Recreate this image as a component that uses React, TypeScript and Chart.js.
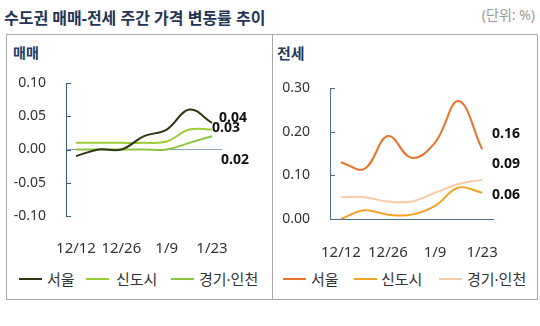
import React, { useEffect, useRef } from 'react';
import { Chart, registerables } from 'chart.js';
Chart.register(...registerables);

const dates = ['12/12', '12/19', '12/26', '1/2', '1/9', '1/16', '1/23'];
const shownDateIdx = [0, 2, 4, 6];
const regionNames = ['서울', '신도시', '경기·인천'];

const saleSeoul = [-0.01, 0.0, 0.0, 0.02, 0.03, 0.06, 0.04];
const saleNewTown = [0.01, 0.01, 0.01, 0.01, 0.012, 0.03, 0.03];
const saleGyeonggi = [0.0, 0.0, 0.0, 0.0, 0.0, 0.01, 0.02];

const rentSeoul = [0.13, 0.115, 0.19, 0.14, 0.175, 0.27, 0.16];
const rentNewTown = [0.0, 0.02, 0.01, 0.01, 0.03, 0.072, 0.06];
const rentGyeonggi = [0.05, 0.05, 0.04, 0.04, 0.06, 0.08, 0.09];

const saleTicks = [-0.1, -0.05, 0, 0.05, 0.1];
const rentTicks = [0, 0.1, 0.2, 0.3];

const saleColors = ['#2e3614', '#9acd32', '#8cc63f'];
const rentColors = ['#e8732a', '#f0a32c', '#f9caa3'];

const FONT = '"Noto Sans", "Noto Sans CJK KR", sans-serif';

const inwardTicks = {
  id: 'inwardTicks',
  afterDraw(chart: any, _a: any, opts: any) {
    const { ctx, chartArea, scales } = chart;
    const y = scales.y;
    ctx.save();
    ctx.strokeStyle = opts.color;
    ctx.lineWidth = 1;
    y.ticks.forEach((t: any) => {
      const py = Math.round(y.getPixelForValue(t.value)) + 0.5;
      ctx.beginPath();
      ctx.moveTo(chartArea.left, py);
      ctx.lineTo(chartArea.left + 5, py);
      ctx.stroke();
    });
    ctx.restore();
  },
};

const endLabels = {
  id: 'endLabels',
  afterDatasetsDraw(chart: any, _a: any, opts: any) {
    const { ctx } = chart;
    ctx.save();
    ctx.font = 'bold 14px ' + FONT;
    ctx.fillStyle = '#111';
    ctx.textBaseline = 'middle';
    ctx.textAlign = 'left';
    opts.order.forEach((i: number) => {
      const meta = chart.getDatasetMeta(i);
      const pt = meta.data[meta.data.length - 1];
      const ds = chart.data.datasets[i];
      const v = ds.data[ds.data.length - 1].y;
      const [dx, dy] = opts.offsets[i];
      ctx.fillText(v.toFixed(2), pt.x + dx, pt.y + dy);
    });
    ctx.restore();
  },
};

function makeConfig(p: any) {
  return {
    type: 'line',
    data: {
      datasets: p.series.map((s: number[], i: number) => ({
        label: regionNames[i],
        data: s.map((v, k) => ({ x: k, y: v })),
        borderColor: p.colors[i],
        borderWidth: 2,
        pointRadius: 0,
        tension: 0.4,
        fill: false,
      })),
    },
    options: {
      responsive: false,
      animation: false,
      devicePixelRatio: 1,
      layout: { padding: { top: p.padTop, right: p.padRight, left: 0, bottom: 0 } },
      plugins: {
        legend: { display: false },
        tooltip: { enabled: false },
        inwardTicks: { color: p.axisColor },
        endLabels: { order: p.order, offsets: p.offsets },
      },
      scales: {
        x: {
          type: 'linear',
          min: p.xMin,
          max: p.xMax,
          afterBuildTicks: (sc: any) => {
            sc.ticks = shownDateIdx.map((v) => ({ value: v }));
          },
          afterFit: (sc: any) => {
            sc.height = p.xHeight;
          },
          grid: { display: false, drawTicks: false },
          border: { display: false },
          ticks: {
            padding: p.xPad,
            maxRotation: 0,
            autoSkip: false,
            color: '#333',
            font: { family: FONT, size: 15 },
            callback: (v: number) => dates[v],
          },
        },
        y: {
          min: p.ticks[0],
          max: p.ticks[p.ticks.length - 1],
          afterBuildTicks: (sc: any) => {
            sc.ticks = p.ticks.map((v: number) => ({ value: v }));
          },
          afterFit: (sc: any) => {
            sc.width = p.yWidth;
          },
          grid: {
            drawTicks: false,
            lineWidth: 1,
            color: (c: any) => (c.tick && Math.abs(c.tick.value) < 1e-9 ? p.zeroColor : 'rgba(0,0,0,0)'),
          },
          border: { display: true, color: p.axisColor, width: 1 },
          ticks: {
            padding: 20,
            color: '#333',
            font: { family: FONT, size: 14 },
            callback: (v: number) => Number(v).toFixed(2),
          },
        },
      },
    },
    plugins: [inwardTicks, endLabels],
  };
}

function LineChart(props: { cfg: any; style: any; w: number; h: number }) {
  const ref = useRef<HTMLCanvasElement>(null);
  useEffect(() => {
    const c = new Chart(ref.current as HTMLCanvasElement, makeConfig(props.cfg) as any);
    return () => c.destroy();
  }, []);
  return <canvas ref={ref} width={props.w} height={props.h} style={{ position: 'absolute', ...props.style }} />;
}

function Legend(props: { colors: string[]; lines: number[]; texts: number[] }) {
  return (
    <>
      {regionNames.map((n, i) => (
        <React.Fragment key={n}>
          <div style={{ position: 'absolute', left: props.lines[i], top: 278, width: 23, height: 2, background: props.colors[i] }} />
          <div style={{ position: 'absolute', left: props.texts[i], top: 268, fontSize: 15, lineHeight: '22px', color: '#333', whiteSpace: 'nowrap' }}>{n}</div>
        </React.Fragment>
      ))}
    </>
  );
}

export default function App() {
  const saleCfg = {
    series: [saleSeoul, saleNewTown, saleGyeonggi],
    colors: saleColors,
    ticks: saleTicks,
    padTop: 47,
    padRight: 50,
    yWidth: 59,
    xHeight: 50,
    xPad: 24,
    xMin: -0.441,
    xMax: 6.441,
    axisColor: '#3f5f82',
    zeroColor: '#8aa4bd',
    order: [0, 1, 2],
    offsets: [[7, -5], [0, -2], [9, 24]],
  };
  const rentCfg = {
    series: [rentSeoul, rentNewTown, rentGyeonggi],
    colors: rentColors,
    ticks: rentTicks,
    padTop: 52,
    padRight: 43,
    yWidth: 57,
    xHeight: 47,
    xPad: 25,
    xMin: -0.465,
    xMax: 6.507,
    axisColor: '#4f6f92',
    zeroColor: '#4f6f92',
    order: [0, 1, 2],
    offsets: [[10, -15], [10, 2], [10, -16]],
  };
  return (
    <div style={{ position: 'fixed', left: 0, top: 0, width: 540, height: 326, background: '#fff', fontFamily: FONT, overflow: 'hidden' }}>
      <div style={{ position: 'absolute', left: 4, top: 5, fontSize: 16, fontWeight: 700, color: '#1f3556', whiteSpace: 'nowrap' }}>
        수도권 매매-전세 주간 가격 변동률 추이
      </div>
      <div style={{ position: 'absolute', right: 5, top: 4, fontSize: 14, color: '#999', whiteSpace: 'nowrap' }}>(단위: %)</div>
      <div style={{ position: 'absolute', left: 6, top: 34, width: 530, height: 264, border: '1px solid #a8a8a8' }} />
      <div style={{ position: 'absolute', left: 272, top: 34, width: 1, height: 266, background: '#a8a8a8' }} />
      <div style={{ position: 'absolute', left: 13, top: 42, fontSize: 14, fontWeight: 700, color: '#1f3a5f' }}>매매</div>
      <div style={{ position: 'absolute', left: 277, top: 42, fontSize: 15, fontWeight: 700, color: '#1f3a5f' }}>전세</div>
      <LineChart cfg={saleCfg} w={265} h={230} style={{ left: 7, top: 36 }} />
      <LineChart cfg={rentCfg} w={264} h={230} style={{ left: 273, top: 36 }} />
      <Legend colors={saleColors} lines={[19, 86, 171]} texts={[47, 116, 199]} />
      <Legend colors={rentColors} lines={[283, 354, 439]} texts={[311, 381, 467]} />
    </div>
  );
}
